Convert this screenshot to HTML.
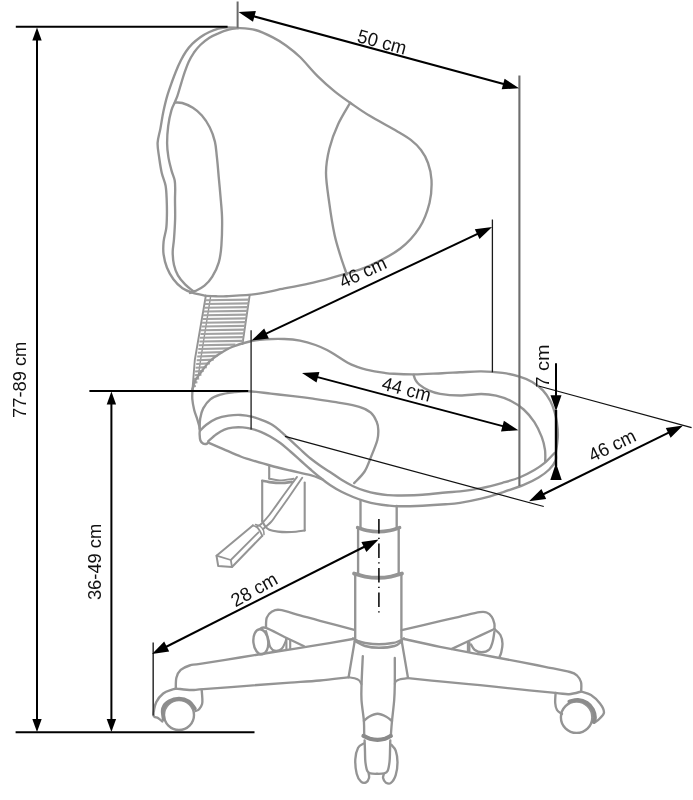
<!DOCTYPE html>
<html><head><meta charset="utf-8"><title>Chair dimensions</title>
<style>
html,body{margin:0;padding:0;background:#fff;}
body{width:693px;height:800px;overflow:hidden;}
svg{display:block;will-change:transform;}
text{font-family:"Liberation Sans",sans-serif;fill:#111;}
</style></head><body>
<svg width="693" height="800" viewBox="0 0 693 800">
<rect width="693" height="800" fill="#fff"/>
<path d="M236.7,27.9 C235.2,27.8 230.6,27.3 227.5,27.4 C224.4,27.5 221.4,27.9 218.4,28.7 C215.4,29.5 212.4,30.6 209.4,32.0 C206.4,33.4 203.1,35.2 200.3,37.2 C197.5,39.2 194.9,41.3 192.5,43.7 C190.1,46.1 187.9,48.7 186.0,51.5 C184.1,54.3 182.5,57.1 180.8,60.6 C179.1,64.0 177.1,68.5 175.6,72.2 C174.1,75.9 173.1,78.7 171.7,82.6 C170.3,86.5 168.7,90.9 167.3,95.6 C165.9,100.3 164.7,105.5 163.5,111.0 C162.3,116.5 161.4,123.3 160.4,128.6 C159.4,133.9 157.8,138.2 157.6,142.9 C157.4,147.7 158.4,152.1 159.1,157.1 C159.8,162.1 160.6,167.9 161.7,172.7 C162.8,177.5 164.8,181.1 165.6,185.7 C166.4,190.2 166.5,195.0 166.7,200.0 C166.9,205.0 167.0,210.8 166.9,215.6 C166.8,220.4 166.8,224.3 166.2,228.6 C165.6,232.9 164.0,237.3 163.6,241.6 C163.2,245.9 163.0,250.2 163.6,254.5 C164.2,258.8 165.3,263.4 166.9,267.5 C168.5,271.6 170.8,275.7 173.4,279.2 C176.0,282.7 179.2,286.0 182.5,288.3 C185.8,290.6 189.0,291.6 192.9,292.9 C196.8,294.1 203.7,295.3 205.8,295.8" fill="none" stroke="#949494" stroke-width="2.36" stroke-linecap="round" stroke-linejoin="round" />
<path d="M205.8,295.8 C207.5,295.9 212.5,296.2 216.0,296.3 C219.5,296.4 220.0,296.6 226.6,296.2 C233.2,295.8 245.8,295.5 255.4,294.2 C265.0,292.9 274.7,290.3 284.3,288.4 C293.9,286.5 303.9,284.9 313.2,282.7 C322.5,280.5 330.6,278.2 340.0,275.4 C349.4,272.6 359.2,270.3 369.3,265.8 C379.4,261.3 392.0,254.8 400.4,248.5 C408.8,242.2 414.6,235.3 419.5,227.7 C424.4,220.1 427.5,210.9 429.5,203.0 C431.5,195.1 431.8,186.7 431.5,180.0 C431.2,173.3 429.8,168.0 428.0,163.0 C426.2,158.0 423.9,153.8 421.0,150.0 C418.1,146.2 414.8,143.0 410.8,139.9 C406.8,136.8 403.9,135.2 397.0,131.2 C390.1,127.1 377.1,120.3 369.3,115.6 C361.5,110.9 356.0,106.8 350.2,102.8 C344.4,98.8 340.1,95.9 334.6,91.4 C329.1,86.9 323.1,81.5 317.3,75.8 C311.5,70.1 305.2,62.0 300.0,57.0 C294.8,52.0 290.5,48.8 286.0,45.5 C281.5,42.2 277.9,40.0 272.8,37.4 C267.7,34.8 261.4,31.6 255.4,30.0 C249.4,28.4 240.1,28.2 237.0,27.9" fill="none" stroke="#949494" stroke-width="2.36" stroke-linecap="round" stroke-linejoin="round" />
<path d="M237.9,28.3 C236.4,28.5 232.1,28.9 228.8,29.7 C225.6,30.5 221.6,31.9 218.4,33.3 C215.2,34.6 212.4,35.8 209.4,37.8 C206.4,39.8 202.9,42.5 200.3,45.0 C197.7,47.5 195.8,50.0 193.8,52.8 C191.9,55.6 190.1,58.7 188.6,61.9 C187.1,65.1 185.9,68.8 184.7,72.2 C183.5,75.7 182.6,78.7 181.4,82.6 C180.2,86.5 178.7,92.2 177.5,95.6 C176.3,99.0 175.5,100.5 174.5,103.0 C173.5,105.5 172.5,106.6 171.4,110.4 C170.3,114.2 168.9,120.6 168.2,126.0 C167.5,131.4 167.1,137.7 167.1,142.9 C167.1,148.1 167.7,152.6 168.4,157.1 C169.1,161.6 170.4,166.2 171.4,170.1 C172.4,174.0 174.1,177.2 174.7,180.5 C175.3,183.8 175.1,186.8 175.2,190.0 C175.2,193.2 175.0,195.1 175.0,200.0 C175.0,204.9 175.3,213.0 175.1,219.5 C174.9,226.0 174.4,233.6 174.0,239.0 C173.6,244.4 172.7,247.6 172.7,251.9 C172.7,256.2 173.1,261.0 174.0,264.9 C174.9,268.8 176.1,272.1 177.9,275.3 C179.8,278.6 182.6,281.8 185.1,284.4 C187.6,287.0 191.6,289.8 192.9,290.9" fill="none" stroke="#949494" stroke-width="2.36" stroke-linecap="round" stroke-linejoin="round" />
<path d="M174.9,102.5 C176.1,102.6 179.3,102.1 182.3,103.0 C185.3,103.9 189.6,105.7 192.9,107.8 C196.2,109.9 199.1,112.3 201.9,115.6 C204.7,118.8 207.5,123.0 209.7,127.3 C211.9,131.6 213.7,136.6 214.9,141.6 C216.1,146.6 216.2,151.0 216.9,157.1 C217.6,163.2 218.2,170.8 218.8,177.9 C219.5,185.1 220.2,193.1 220.8,200.0 C221.4,206.9 222.0,211.9 222.1,219.5 C222.2,227.1 221.9,238.4 221.4,245.5 C220.9,252.6 220.3,257.1 218.8,262.3 C217.3,267.5 214.7,272.7 212.3,276.6 C209.9,280.5 207.3,283.3 204.5,285.7 C201.7,288.1 197.9,289.7 195.5,290.9 C193.1,292.1 190.9,292.6 190.0,293.0" fill="none" stroke="#949494" stroke-width="2.36" stroke-linecap="round" stroke-linejoin="round" />
<path d="M350.2,102.8 C348.2,106.4 341.6,116.7 338.1,124.3 C334.6,131.9 331.4,140.4 329.4,148.5 C327.4,156.6 326.0,163.6 326.0,172.8 C326.0,182.0 328.0,193.5 329.4,203.9 C330.8,214.3 332.8,226.4 334.6,235.1 C336.5,243.8 338.5,249.4 340.5,256.0 C342.5,262.6 345.8,271.4 346.8,274.5" fill="none" stroke="#949494" stroke-width="2.36" stroke-linecap="round" stroke-linejoin="round" />
<path d="M205.8,296.0 L194.8,360.0 L192.5,389.0" fill="none" stroke="#949494" stroke-width="1.89" stroke-linecap="round" stroke-linejoin="round" />
<path d="M210.7,296.0 L200.6,360.0 L198.0,378.0" fill="none" stroke="#949494" stroke-width="1.42" stroke-linecap="round" stroke-linejoin="round" />
<path d="M249.7,295.0 L242.5,344.0" fill="none" stroke="#949494" stroke-width="1.89" stroke-linecap="round" stroke-linejoin="round" />
<path d="M205.3,300.2 L249.0,299.6" stroke="#a2a2a2" stroke-width="2.1" fill="none"/>
<path d="M204.7,304.0 L248.5,303.4" stroke="#a2a2a2" stroke-width="2.1" fill="none"/>
<path d="M204.2,307.7 L247.9,307.1" stroke="#a2a2a2" stroke-width="2.1" fill="none"/>
<path d="M203.7,311.5 L247.4,310.9" stroke="#a2a2a2" stroke-width="2.1" fill="none"/>
<path d="M203.1,315.2 L246.8,314.6" stroke="#a2a2a2" stroke-width="2.1" fill="none"/>
<path d="M202.6,319.0 L246.3,318.4" stroke="#a2a2a2" stroke-width="2.1" fill="none"/>
<path d="M202.1,322.7 L245.7,322.1" stroke="#a2a2a2" stroke-width="2.1" fill="none"/>
<path d="M201.5,326.5 L245.2,325.9" stroke="#a2a2a2" stroke-width="2.1" fill="none"/>
<path d="M201.0,330.2 L244.6,329.6" stroke="#a2a2a2" stroke-width="2.1" fill="none"/>
<path d="M200.5,334.0 L244.1,333.4" stroke="#a2a2a2" stroke-width="2.1" fill="none"/>
<path d="M199.9,337.7 L243.5,337.1" stroke="#a2a2a2" stroke-width="2.1" fill="none"/>
<path d="M199.4,341.5 L243.0,340.9" stroke="#a2a2a2" stroke-width="2.1" fill="none"/>
<path d="M198.8,345.2 L235.4,344.6" stroke="#a2a2a2" stroke-width="2.1" fill="none"/>
<path d="M198.3,349.0 L228.7,348.4" stroke="#a2a2a2" stroke-width="2.1" fill="none"/>
<path d="M197.8,352.7 L222.6,352.1" stroke="#a2a2a2" stroke-width="2.1" fill="none"/>
<path d="M197.2,356.5 L217.4,355.9" stroke="#a2a2a2" stroke-width="2.1" fill="none"/>
<path d="M196.7,360.2 L213.7,359.6" stroke="#a2a2a2" stroke-width="2.1" fill="none"/>
<path d="M196.2,364.0 L209.9,363.4" stroke="#a2a2a2" stroke-width="2.1" fill="none"/>
<path d="M195.6,367.7 L206.8,367.1" stroke="#a2a2a2" stroke-width="2.1" fill="none"/>
<path d="M195.1,371.5 L203.7,370.9" stroke="#a2a2a2" stroke-width="2.1" fill="none"/>
<path d="M194.6,375.2 L201.4,374.6" stroke="#a2a2a2" stroke-width="2.1" fill="none"/>
<path d="M194.0,379.0 L199.2,378.4" stroke="#a2a2a2" stroke-width="2.1" fill="none"/>
<path d="M193.5,382.7 L197.4,382.1" stroke="#a2a2a2" stroke-width="2.1" fill="none"/>
<path d="M193.0,386.5 L195.8,385.9" stroke="#a2a2a2" stroke-width="2.1" fill="none"/>
<path d="M192.5,389.3 C192.9,387.9 193.6,383.9 195.0,381.0 C196.4,378.1 198.9,375.2 201.2,372.0 C203.5,368.8 206.1,364.9 209.0,362.0 C211.9,359.1 214.7,357.1 218.5,354.6 C222.3,352.1 226.8,349.2 232.0,347.0 C237.2,344.8 244.0,342.8 249.7,341.5 C255.4,340.2 260.2,339.7 266.0,339.3 C271.8,338.9 278.6,338.8 284.3,339.0 C290.0,339.2 294.8,339.6 300.0,340.6 C305.2,341.6 311.0,343.4 315.5,345.0 C320.0,346.6 323.4,348.2 327.0,350.0 C330.6,351.8 333.6,353.9 337.0,356.0 C340.4,358.1 344.4,360.9 347.7,362.7 C351.0,364.5 353.9,365.6 357.0,366.8 C360.1,368.0 361.6,368.6 366.2,369.6 C370.8,370.6 380.1,372.2 384.7,372.9 C389.3,373.6 389.0,373.6 394.0,373.8 C399.0,374.1 406.6,374.5 414.7,374.4 C422.8,374.3 434.8,373.5 442.3,373.2 C449.9,372.9 453.5,372.6 460.0,372.3 C466.5,372.0 474.1,371.3 481.2,371.4 C488.3,371.5 496.1,372.0 502.5,372.9 C508.9,373.8 514.5,375.1 519.5,376.6 C524.5,378.1 528.3,379.6 532.2,381.9 C536.1,384.2 539.9,387.2 542.9,390.4 C545.9,393.6 548.4,397.5 550.3,401.0 C552.2,404.5 553.4,408.1 554.5,411.6 C555.6,415.1 556.3,418.3 556.9,422.2 C557.5,426.1 557.9,431.1 557.9,435.0 C557.9,438.9 557.2,442.6 556.9,445.6 C556.5,448.6 556.0,450.5 555.8,453.0 C555.6,455.5 556.7,457.8 555.6,460.5 C554.5,463.2 552.0,466.7 549.2,469.5 C546.4,472.3 542.9,474.9 538.6,477.5 C534.4,480.1 529.7,482.4 523.7,484.9 C517.7,487.4 509.6,490.0 502.5,492.3 C495.4,494.6 488.3,496.9 481.2,498.7 C474.1,500.4 465.9,501.9 460.0,502.8 C454.1,503.7 451.8,503.8 445.5,504.3 C439.2,504.8 430.1,505.4 422.4,505.7 C414.7,506.0 405.1,506.2 399.3,506.2 C393.5,506.2 391.6,505.9 387.7,505.5 C383.8,505.1 380.0,504.6 376.2,503.9 C372.4,503.2 368.5,502.2 364.6,501.1 C360.8,500.0 357.0,498.6 353.1,497.0 C349.2,495.4 345.4,493.8 341.5,491.8 C337.6,489.8 333.5,487.3 330.0,485.0 C326.5,482.7 323.9,480.6 320.7,478.0 C317.5,475.4 314.0,472.4 310.6,469.5 C307.2,466.6 303.9,463.5 300.5,460.5 C297.1,457.5 293.8,454.4 290.4,451.5 C287.0,448.6 283.7,445.5 280.3,443.0 C276.9,440.5 273.4,438.4 270.2,436.5 C266.9,434.6 264.1,433.1 260.8,431.8 C257.6,430.5 253.7,429.3 250.7,428.6 C247.7,427.9 245.6,427.6 242.6,427.4 C239.6,427.2 235.5,427.2 232.5,427.6 C229.5,428.0 227.1,428.5 224.4,429.6 C221.7,430.7 219.1,432.3 216.4,434.2 C213.7,436.1 209.7,440.0 208.3,441.2" fill="none" stroke="#949494" stroke-width="2.36" stroke-linecap="round" stroke-linejoin="round" />
<path d="M192.5,389.3 C192.5,390.9 192.0,395.6 192.3,399.0 C192.6,402.4 193.4,406.7 194.2,410.0 C195.0,413.3 196.3,416.0 197.2,419.0 C198.1,422.0 199.3,425.5 199.7,428.0 C200.1,430.5 199.5,431.9 199.6,434.0 C199.7,436.1 199.8,438.9 200.4,440.5 C201.0,442.1 202.1,442.9 203.0,443.5 C203.9,444.1 205.1,444.1 206.0,444.0 C206.9,443.9 207.9,442.8 208.3,442.6" fill="none" stroke="#949494" stroke-width="2.36" stroke-linecap="round" stroke-linejoin="round" />
<path d="M199.6,429.0 C199.7,427.2 199.6,421.9 200.2,418.5 C200.8,415.1 201.5,411.6 203.2,408.4 C204.9,405.2 207.4,401.6 210.3,399.3 C213.2,397.0 216.4,395.8 220.4,394.6 C224.4,393.4 229.8,392.8 234.5,392.2 C239.2,391.6 242.6,391.1 248.7,391.3 C254.8,391.5 263.5,392.8 270.9,393.6 C278.3,394.4 286.1,395.4 293.1,396.2 C300.1,397.0 305.9,397.7 313.0,398.7 C320.1,399.7 328.3,400.8 336.0,402.2 C343.7,403.6 353.5,405.1 359.3,406.8 C365.1,408.5 367.9,410.1 370.8,412.6 C373.7,415.1 375.4,418.7 376.6,421.6 C377.9,424.5 378.2,427.0 378.3,430.1 C378.4,433.2 378.5,435.8 377.3,440.2 C376.1,444.6 373.3,451.2 371.2,456.4 C369.1,461.6 367.4,467.1 364.6,471.5 C361.8,475.9 355.9,481.2 354.2,483.1" fill="none" stroke="#949494" stroke-width="2.36" stroke-linecap="round" stroke-linejoin="round" />
<path d="M200.2,430.6 C201.2,429.6 203.6,426.8 206.3,424.8 C209.0,422.8 212.7,420.2 216.4,418.7 C220.1,417.2 224.5,416.3 228.5,415.7 C232.5,415.1 236.6,414.8 240.6,415.0 C244.6,415.2 249.1,416.0 252.7,416.9 C256.3,417.8 258.9,418.9 262.1,420.2 C265.4,421.5 269.2,423.0 272.2,424.8 C275.2,426.6 277.3,428.5 280.3,431.1 C283.3,433.7 287.0,437.1 290.4,440.2 C293.8,443.3 297.1,446.4 300.5,449.5 C303.9,452.6 307.2,455.8 310.6,458.5 C314.0,461.2 317.5,463.8 320.7,466.0 C323.9,468.2 326.5,469.7 330.0,472.0 C333.5,474.3 337.6,477.4 341.5,479.8 C345.4,482.2 349.2,484.4 353.1,486.2 C357.0,488.0 360.8,489.4 364.6,490.6 C368.5,491.8 372.4,492.8 376.2,493.5 C380.0,494.2 383.8,494.8 387.7,495.1 C391.6,495.4 393.5,495.6 399.3,495.5 C405.1,495.4 414.7,495.3 422.4,494.8 C430.1,494.3 439.2,493.1 445.5,492.5 C451.8,491.9 454.1,492.0 460.0,491.3 C465.9,490.6 474.1,489.5 481.2,488.1 C488.3,486.7 496.1,484.6 502.5,482.8 C508.9,481.0 514.2,479.6 519.5,477.5 C524.8,475.4 530.1,472.5 534.4,470.0 C538.6,467.5 541.6,465.4 545.0,462.6 C548.4,459.8 552.9,454.6 554.5,453.0" fill="none" stroke="#949494" stroke-width="2.36" stroke-linecap="round" stroke-linejoin="round" />
<path d="M208.3,442.6 C210.3,443.5 215.0,445.5 220.4,447.8 C225.8,450.1 235.7,454.5 240.6,456.5 C245.5,458.5 245.1,458.1 250.0,459.6 C254.9,461.1 263.5,463.7 270.2,465.5 C276.9,467.3 283.7,468.9 290.4,470.5 C297.1,472.1 305.2,473.7 310.6,475.2 C316.0,476.7 320.5,478.7 322.5,479.4" fill="none" stroke="#949494" stroke-width="2.36" stroke-linecap="round" stroke-linejoin="round" />
<path d="M413.6,374.8 C413.9,375.7 414.6,378.4 415.5,380.0 C416.4,381.6 417.1,382.9 419.3,384.6 C421.5,386.3 425.1,388.8 428.6,390.4 C432.1,391.9 434.9,393.0 440.1,393.9 C445.3,394.8 453.1,395.5 460.0,395.5 C466.9,395.5 475.2,394.0 481.2,394.0 C487.2,394.0 491.1,394.5 496.1,395.7 C501.1,396.9 506.4,398.7 511.0,401.0 C515.6,403.3 519.8,406.0 523.7,409.5 C527.6,413.0 531.4,417.6 534.4,422.2 C537.4,426.8 540.0,432.5 541.8,437.1 C543.6,441.7 544.4,445.8 545.0,449.9 C545.6,454.0 545.2,459.6 545.2,461.5" fill="none" stroke="#949494" stroke-width="2.36" stroke-linecap="round" stroke-linejoin="round" />
<path d="M269.2,466.5 L269.2,478.6" fill="none" stroke="#949494" stroke-width="2.12" stroke-linecap="round" stroke-linejoin="round" />
<path d="M262.2,480.8 L262.2,521.0" fill="none" stroke="#949494" stroke-width="2.12" stroke-linecap="round" stroke-linejoin="round" />
<path d="M304.7,482.5 L304.7,530.5" fill="none" stroke="#949494" stroke-width="2.12" stroke-linecap="round" stroke-linejoin="round" />
<path d="M262.2,480.8 C263.4,481.0 266.1,481.7 269.3,482.1 C272.5,482.5 277.6,483.0 281.4,483.0 C285.1,483.0 290.1,482.1 291.8,481.9" fill="none" stroke="#949494" stroke-width="2.60" stroke-linecap="round" stroke-linejoin="round" />
<path d="M269.2,478.6 C270.9,478.9 275.6,480.4 279.7,480.4 C283.8,480.4 291.2,479.0 293.5,478.7" fill="none" stroke="#949494" stroke-width="1.89" stroke-linecap="round" stroke-linejoin="round" />
<path d="M262.2,521.0 C262.7,521.8 263.8,524.5 265.0,526.0 C266.2,527.5 267.1,528.8 269.3,529.7 C271.5,530.6 275.1,531.2 278.0,531.6 C280.9,532.0 283.6,532.1 286.6,532.1 C289.6,532.1 293.0,532.0 296.0,531.7 C299.0,531.4 303.2,530.7 304.7,530.5" fill="none" stroke="#949494" stroke-width="2.12" stroke-linecap="round" stroke-linejoin="round" />
<path d="M297.0,476.9 C294.7,480.1 287.6,489.6 283.0,496.0 C278.4,502.4 272.9,510.4 269.3,515.0 C265.7,519.6 263.5,521.8 261.5,523.7 C259.5,525.6 257.8,525.9 257.1,526.3" fill="none" stroke="#949494" stroke-width="1.89" stroke-linecap="round" stroke-linejoin="round" />
<path d="M302.2,477.8 C300.0,481.0 293.3,490.8 289.0,497.0 C284.7,503.2 279.2,510.8 276.2,515.0 C273.2,519.2 273.2,519.7 271.0,522.0 C268.8,524.3 264.5,527.8 263.2,528.9" fill="none" stroke="#949494" stroke-width="1.89" stroke-linecap="round" stroke-linejoin="round" />
<path d="M252.8,525.4 L216.5,555.7 L218.2,566.1 L232.0,567.0 L262.3,535.8" fill="none" stroke="#949494" stroke-width="2.01" stroke-linecap="round" stroke-linejoin="round" />
<path d="M216.5,555.7 L230.8,560.0 L232.0,567.0" fill="none" stroke="#949494" stroke-width="1.77" stroke-linecap="round" stroke-linejoin="round" />
<path d="M230.8,560.0 L258.5,532.3" fill="none" stroke="#949494" stroke-width="1.77" stroke-linecap="round" stroke-linejoin="round" />
<path d="M252.8,525.4 C253.5,525.7 255.9,526.4 257.0,527.2 C258.1,528.1 258.7,529.1 259.6,530.5 C260.5,531.9 261.9,534.9 262.3,535.8" fill="none" stroke="#949494" stroke-width="1.77" stroke-linecap="round" stroke-linejoin="round" />
<path d="M255.5,524.5 C256.3,524.8 259.2,525.5 260.5,526.5 C261.8,527.5 262.9,529.2 263.5,530.5 C264.1,531.8 263.9,533.8 264.0,534.5" fill="none" stroke="#949494" stroke-width="1.53" stroke-linecap="round" stroke-linejoin="round" />
<path d="M360.5,500.4 L360.5,528.0" fill="none" stroke="#949494" stroke-width="2.36" stroke-linecap="round" stroke-linejoin="round" />
<path d="M396.7,506.0 L396.7,528.0" fill="none" stroke="#949494" stroke-width="2.36" stroke-linecap="round" stroke-linejoin="round" />
<path d="M357.6,527.6 C359.2,528.1 363.5,529.9 367.0,530.6 C370.5,531.3 374.8,531.8 378.6,531.8 C382.4,531.8 386.5,531.3 390.0,530.6 C393.5,529.9 398.0,528.1 399.6,527.6" fill="none" stroke="#949494" stroke-width="3.54" stroke-linecap="round" stroke-linejoin="round" />
<path d="M358.1,528.0 L358.1,574.0" fill="none" stroke="#949494" stroke-width="2.36" stroke-linecap="round" stroke-linejoin="round" />
<path d="M398.7,528.0 L398.7,574.0" fill="none" stroke="#949494" stroke-width="2.36" stroke-linecap="round" stroke-linejoin="round" />
<path d="M354.1,573.6 C355.9,574.1 361.0,575.9 365.0,576.6 C369.0,577.3 373.9,577.8 378.2,577.8 C382.5,577.8 387.1,577.3 391.0,576.6 C394.9,575.9 400.1,574.1 401.9,573.6" fill="none" stroke="#949494" stroke-width="4.01" stroke-linecap="round" stroke-linejoin="round" />
<path d="M355.2,574.0 L355.2,638.0" fill="none" stroke="#949494" stroke-width="2.36" stroke-linecap="round" stroke-linejoin="round" />
<path d="M401.4,574.0 L401.4,638.0" fill="none" stroke="#949494" stroke-width="2.36" stroke-linecap="round" stroke-linejoin="round" />
<path d="M352.9,638.4 C353.8,638.8 356.0,640.2 358.0,641.0 C360.0,641.8 361.5,642.5 365.0,643.0 C368.5,643.5 374.3,644.2 378.9,644.2 C383.5,644.2 389.3,643.5 392.7,643.0 C396.1,642.5 397.1,641.8 399.0,641.0 C400.9,640.2 403.2,638.8 404.0,638.4" fill="none" stroke="#949494" stroke-width="2.36" stroke-linecap="round" stroke-linejoin="round" />
<path d="M354.6,641.0 C356.3,641.8 360.9,644.9 365.0,646.0 C369.1,647.1 374.0,647.8 378.9,647.8 C383.8,647.8 390.6,647.1 394.5,646.0 C398.4,644.9 400.8,641.8 402.0,641.0" fill="none" stroke="#949494" stroke-width="2.36" stroke-linecap="round" stroke-linejoin="round" />
<path d="M354.6,641.6 L348.6,677.1" fill="none" stroke="#949494" stroke-width="2.36" stroke-linecap="round" stroke-linejoin="round" />
<path d="M401.8,641.6 L408.0,677.9" fill="none" stroke="#949494" stroke-width="2.36" stroke-linecap="round" stroke-linejoin="round" />
<path d="M362.8,656.3 C362.6,660.8 361.8,675.8 361.6,683.1 C361.4,690.4 361.1,693.7 361.5,700.0 C361.9,706.3 363.4,715.0 363.9,721.0 C364.3,727.0 364.1,733.5 364.2,736.0" fill="none" stroke="#949494" stroke-width="2.36" stroke-linecap="round" stroke-linejoin="round" />
<path d="M394.8,658.0 C394.8,662.2 394.9,676.1 394.8,683.1 C394.7,690.1 394.7,693.7 394.2,700.0 C393.7,706.3 392.6,715.0 392.0,721.0 C391.4,727.0 391.0,733.5 390.8,736.0" fill="none" stroke="#949494" stroke-width="2.36" stroke-linecap="round" stroke-linejoin="round" />
<path d="M348.6,677.3 C349.6,677.5 352.9,677.8 354.6,678.3 C356.3,678.8 357.9,679.3 359.0,680.3 C360.1,681.2 361.0,683.4 361.4,684.0" fill="none" stroke="#949494" stroke-width="2.12" stroke-linecap="round" stroke-linejoin="round" />
<path d="M408.0,678.1 C406.6,678.3 401.5,679.0 399.5,679.5 C397.5,680.0 396.8,680.5 396.0,681.3 C395.2,682.0 395.0,683.5 394.8,684.0" fill="none" stroke="#949494" stroke-width="2.12" stroke-linecap="round" stroke-linejoin="round" />
<path d="M363.9,721.0 C364.8,720.3 366.7,717.9 369.0,716.7 C371.3,715.5 374.7,713.8 377.6,713.8 C380.5,713.8 383.9,715.5 386.3,716.7 C388.7,717.9 391.1,720.3 392.0,721.0" fill="none" stroke="#949494" stroke-width="2.36" stroke-linecap="round" stroke-linejoin="round" />
<path d="M363.5,735.9 C364.6,736.4 367.7,738.1 370.0,738.8 C372.3,739.4 375.0,739.8 377.5,739.8 C380.0,739.8 382.8,739.4 385.0,738.8 C387.2,738.1 389.8,736.4 390.8,735.9" fill="none" stroke="#8a8a8a" stroke-width="4.25" stroke-linecap="round" stroke-linejoin="round" />
<path d="M364.6,740.5 C364.7,742.4 364.9,748.4 365.0,752.0 C365.1,755.6 365.0,759.1 365.4,762.2 C365.8,765.3 366.4,768.9 367.2,770.8 C368.0,772.7 368.8,772.9 370.4,773.4 C372.0,773.9 374.7,773.8 377.0,773.8 C379.3,773.8 382.3,773.9 384.1,773.4 C385.9,772.9 386.8,772.7 387.7,770.8 C388.6,768.9 389.1,765.3 389.5,762.2 C389.9,759.1 389.9,755.6 390.0,752.0 C390.1,748.4 390.2,742.4 390.3,740.5" fill="none" stroke="#949494" stroke-width="2.36" stroke-linecap="round" stroke-linejoin="round" />
<path d="M363.9,743.4 C362.9,744.1 359.5,745.1 358.1,747.7 C356.7,750.4 355.5,755.0 355.3,759.3 C355.1,763.6 355.8,770.0 356.7,773.7 C357.6,777.4 359.4,780.2 361.0,781.6 C362.6,783.0 364.8,783.0 366.1,782.4 C367.4,781.8 368.6,779.5 369.0,778.0 C369.4,776.5 368.8,774.4 368.7,773.7" fill="none" stroke="#949494" stroke-width="2.36" stroke-linecap="round" stroke-linejoin="round" />
<path d="M391.3,744.8 C392.0,745.8 394.7,747.7 395.7,750.6 C396.7,753.5 397.5,758.1 397.5,762.2 C397.5,766.3 396.8,771.6 395.7,775.1 C394.6,778.6 392.3,781.9 390.6,783.1 C388.9,784.3 386.9,783.2 385.6,782.4 C384.4,781.5 383.4,779.3 383.1,778.0 C382.8,776.7 383.6,775.0 383.7,774.4" fill="none" stroke="#949494" stroke-width="2.36" stroke-linecap="round" stroke-linejoin="round" />
<path d="M352.9,639.0 C347.4,640.0 332.1,642.7 320.0,644.7 C307.9,646.7 293.3,648.9 280.0,651.0 C266.7,653.1 253.3,655.4 240.0,657.5 C226.7,659.6 208.4,662.5 200.0,663.8 C191.6,665.1 192.7,664.5 189.5,665.5 C186.3,666.5 182.9,667.9 180.7,669.9 C178.5,671.9 177.2,674.7 176.4,677.7 C175.6,680.8 175.9,686.5 175.8,688.2" fill="none" stroke="#949494" stroke-width="2.36" stroke-linecap="round" stroke-linejoin="round" />
<path d="M348.6,677.3 C343.8,677.8 329.8,679.6 320.0,680.5 C310.2,681.4 301.7,681.8 290.0,682.6 C278.3,683.5 264.4,684.5 250.0,685.6 C235.6,686.7 213.3,688.4 203.5,689.1 C193.7,689.8 195.7,690.1 191.2,690.0 C186.7,689.9 178.9,688.8 176.4,688.6" fill="none" stroke="#949494" stroke-width="2.36" stroke-linecap="round" stroke-linejoin="round" />
<path d="M176.4,688.6 C175.7,688.8 174.2,688.8 172.0,689.6 C169.8,690.4 165.8,691.4 163.2,693.5 C160.6,695.6 157.8,698.6 156.2,702.2 C154.6,705.8 153.3,712.7 153.6,715.3 C153.9,717.9 156.5,717.0 158.0,718.0 C159.5,719.0 161.7,720.9 162.4,721.5" fill="none" stroke="#949494" stroke-width="2.36" stroke-linecap="round" stroke-linejoin="round" />
<path d="M201.7,690.0 C201.8,691.3 202.2,695.7 202.3,698.0 C202.4,700.3 202.6,702.1 202.1,704.0 C201.6,705.9 200.2,708.0 199.1,709.2 C198.0,710.4 196.2,710.7 195.6,711.0" fill="none" stroke="#949494" stroke-width="2.36" stroke-linecap="round" stroke-linejoin="round" />
<circle cx="179" cy="715" r="15" fill="none" stroke="#949494" stroke-width="2.4"/>
<path d="M163.6,719.0 C163.5,717.2 162.1,711.4 163.0,708.5 C163.9,705.6 166.3,703.1 169.0,701.5 C171.7,699.9 175.7,698.6 179.0,698.6 C182.3,698.6 186.4,699.9 189.0,701.5 C191.6,703.1 193.8,707.3 194.8,708.5" fill="none" stroke="#8c8c8c" stroke-width="3.78" stroke-linecap="round" stroke-linejoin="round" />
<path d="M354.3,629.8 C348.6,628.3 329.1,623.2 320.0,620.8 C310.9,618.4 306.7,617.1 300.0,615.3 C293.3,613.5 284.5,610.5 279.8,609.9 C275.1,609.3 274.2,610.3 272.0,611.6 C269.8,612.9 267.8,615.1 266.8,617.7 C265.8,620.3 266.1,625.6 266.0,627.2" fill="none" stroke="#949494" stroke-width="2.36" stroke-linecap="round" stroke-linejoin="round" />
<path d="M259.9,629.0 C260.9,628.8 261.8,626.5 266.0,627.9 C270.2,629.3 278.6,634.1 285.0,637.2 C291.4,640.3 300.9,644.8 304.1,646.3" fill="none" stroke="#949494" stroke-width="2.36" stroke-linecap="round" stroke-linejoin="round" />
<ellipse cx="260.8" cy="641.8" rx="7.4" ry="12.6" fill="none" stroke="#949494" stroke-width="2.4" transform="rotate(-6 260.8 641.8)"/>
<path d="M266.0,631.0 C266.4,632.5 267.9,637.5 268.6,640.2 C269.3,642.9 269.3,645.4 270.3,647.1 C271.3,648.8 272.7,650.3 274.6,650.6 C276.5,650.9 279.8,650.3 281.6,648.9 C283.4,647.5 284.6,643.7 285.4,642.0 C286.2,640.3 286.2,639.1 286.4,638.5" fill="none" stroke="#949494" stroke-width="2.12" stroke-linecap="round" stroke-linejoin="round" />
<path d="M286.4,638.5 L286.4,649.0" fill="none" stroke="#949494" stroke-width="2.12" stroke-linecap="round" stroke-linejoin="round" />
<path d="M290.2,640.2 L290.2,648.5" fill="none" stroke="#949494" stroke-width="2.12" stroke-linecap="round" stroke-linejoin="round" />
<path d="M401.7,630.2 C408.1,628.7 430.3,623.5 440.0,621.2 C449.7,618.9 453.4,618.1 460.0,616.6 C466.6,615.1 475.3,612.9 479.7,612.2 C484.1,611.5 484.6,611.7 486.6,612.5 C488.6,613.3 490.5,614.9 491.8,616.8 C493.1,618.7 494.0,621.8 494.4,623.8 C494.8,625.8 494.4,628.1 494.4,629.0" fill="none" stroke="#949494" stroke-width="2.36" stroke-linecap="round" stroke-linejoin="round" />
<path d="M494.4,629.0 C491.2,630.5 482.1,634.7 475.0,638.0 C467.9,641.3 455.8,647.1 451.9,648.9" fill="none" stroke="#949494" stroke-width="2.36" stroke-linecap="round" stroke-linejoin="round" />
<path d="M494.4,629.0 C495.4,630.0 499.0,632.5 500.4,635.0 C501.8,637.5 502.4,640.8 502.5,643.7 C502.6,646.6 501.8,650.1 501.3,652.3 C500.8,654.5 499.9,656.0 499.6,656.7" fill="none" stroke="#949494" stroke-width="2.36" stroke-linecap="round" stroke-linejoin="round" />
<path d="M494.4,631.6 C494.1,633.3 493.5,639.0 492.6,642.0 C491.7,645.0 491.1,648.0 489.2,649.7 C487.3,651.4 483.8,652.3 481.4,652.3 C478.9,652.3 476.2,651.0 474.5,649.7 C472.8,648.4 471.6,645.4 471.0,644.5" fill="none" stroke="#949494" stroke-width="2.36" stroke-linecap="round" stroke-linejoin="round" />
<path d="M467.9,642.0 L467.9,651.5" fill="none" stroke="#949494" stroke-width="2.12" stroke-linecap="round" stroke-linejoin="round" />
<path d="M469.6,642.0 L469.6,651.5" fill="none" stroke="#949494" stroke-width="1.65" stroke-linecap="round" stroke-linejoin="round" />
<path d="M404.0,639.0 C410.0,640.3 427.3,644.2 440.0,646.8 C452.7,649.4 466.7,651.9 480.0,654.4 C493.3,656.9 509.2,659.8 520.0,661.9 C530.8,664.0 536.7,665.1 545.0,666.8 C553.3,668.5 564.7,670.5 570.0,672.0 C575.3,673.5 575.2,673.8 577.0,675.5 C578.8,677.2 580.3,679.5 581.0,682.0 C581.7,684.5 581.2,689.1 581.2,690.5" fill="none" stroke="#949494" stroke-width="2.36" stroke-linecap="round" stroke-linejoin="round" />
<path d="M408.0,678.1 C413.3,678.6 428.0,680.2 440.0,681.4 C452.0,682.6 466.7,683.9 480.0,685.2 C493.3,686.5 507.4,688.1 520.0,689.4 C532.6,690.7 547.2,692.0 555.4,692.8 C563.6,693.6 564.7,694.4 569.0,694.2 C573.3,694.0 579.2,692.0 581.2,691.5" fill="none" stroke="#949494" stroke-width="2.36" stroke-linecap="round" stroke-linejoin="round" />
<path d="M555.6,693.0 C555.5,694.7 555.0,700.2 555.2,703.0 C555.4,705.8 555.9,708.2 557.0,710.0 C558.1,711.8 561.2,713.3 562.0,714.0" fill="none" stroke="#949494" stroke-width="2.36" stroke-linecap="round" stroke-linejoin="round" />
<path d="M581.2,691.5 C582.8,692.1 587.9,693.0 591.0,695.0 C594.1,697.0 597.8,700.6 600.0,703.5 C602.2,706.4 604.1,710.0 604.0,712.5 C603.9,715.0 601.1,717.1 599.5,718.8 C597.9,720.5 595.2,722.1 594.4,722.8" fill="none" stroke="#949494" stroke-width="2.36" stroke-linecap="round" stroke-linejoin="round" />
<circle cx="576.6" cy="717.2" r="15.7" fill="none" stroke="#949494" stroke-width="2.4"/>
<path d="M569.3,701.5 C570.8,701.2 575.0,699.6 578.0,699.8 C581.0,700.0 584.5,701.2 587.0,702.8 C589.5,704.4 591.7,707.0 593.0,709.5 C594.3,712.0 594.9,715.4 595.0,717.5 C595.1,719.6 593.8,721.2 593.6,722.0" fill="none" stroke="#8c8c8c" stroke-width="3.78" stroke-linecap="round" stroke-linejoin="round" />
<line x1="237.6" y1="1.5" x2="237.6" y2="27.8" stroke="#6a6a6a" stroke-width="2.00" />
<line x1="519.4" y1="75.5" x2="519.4" y2="486.0" stroke="#6e6e6e" stroke-width="2.10" />
<line x1="492.4" y1="219.5" x2="492.4" y2="372.3" stroke="#1a1a1a" stroke-width="1.30" />
<line x1="251.1" y1="330.3" x2="251.1" y2="429.6" stroke="#2a2a2a" stroke-width="1.40" />
<line x1="153.2" y1="642.4" x2="153.2" y2="715.5" stroke="#3a3a3a" stroke-width="1.60" />
<line x1="538.6" y1="386.0" x2="691.6" y2="427.7" stroke="#111" stroke-width="1.20" />
<line x1="285.0" y1="436.3" x2="543.8" y2="506.5" stroke="#111" stroke-width="1.20" />
<line x1="15.8" y1="26.8" x2="227.6" y2="26.8" stroke="#000" stroke-width="2.00" />
<line x1="15.6" y1="732.3" x2="254.5" y2="732.3" stroke="#000" stroke-width="2.00" />
<line x1="89.4" y1="390.9" x2="248.2" y2="390.9" stroke="#000" stroke-width="2.00" />
<line x1="37.0" y1="37.9" x2="37.0" y2="721.6" stroke="#000" stroke-width="2.00" />
<polygon points="37.0,27.5 41.7,40.5 32.3,40.5" fill="#000"/>
<polygon points="37.0,732.0 32.3,719.0 41.7,719.0" fill="#000"/>
<line x1="111.4" y1="401.9" x2="111.4" y2="721.6" stroke="#000" stroke-width="2.00" />
<polygon points="111.4,391.5 116.1,404.5 106.7,404.5" fill="#000"/>
<polygon points="111.4,732.0 106.7,719.0 116.1,719.0" fill="#000"/>
<line x1="251.2" y1="15.6" x2="506.4" y2="84.8" stroke="#000" stroke-width="2.00" />
<polygon points="238.5,12.1 255.9,11.1 253.0,21.7" fill="#000"/>
<polygon points="519.1,88.3 501.7,89.3 504.6,78.7" fill="#000"/>
<line x1="263.5" y1="334.9" x2="480.2" y2="232.7" stroke="#000" stroke-width="2.00" />
<polygon points="251.6,340.5 264.2,328.5 268.9,338.4" fill="#000"/>
<polygon points="492.1,227.1 479.5,239.1 474.8,229.2" fill="#000"/>
<line x1="314.8" y1="376.4" x2="505.6" y2="426.9" stroke="#000" stroke-width="2.00" />
<polygon points="302.0,373.0 319.4,371.9 316.5,382.5" fill="#000"/>
<polygon points="518.4,430.3 501.0,431.4 503.9,420.8" fill="#000"/>
<line x1="540.8" y1="495.5" x2="671.2" y2="431.3" stroke="#000" stroke-width="2.00" />
<polygon points="529.0,501.3 541.4,489.1 546.2,498.9" fill="#000"/>
<polygon points="683.0,425.5 670.6,437.7 665.8,427.9" fill="#000"/>
<line x1="163.8" y1="648.0" x2="366.8" y2="545.5" stroke="#000" stroke-width="2.00" />
<polygon points="152.0,654.0 164.2,641.6 169.2,651.5" fill="#000"/>
<polygon points="378.6,539.5 366.4,551.9 361.4,542.0" fill="#000"/>
<line x1="556.0" y1="363.2" x2="556.0" y2="400.0" stroke="#000" stroke-width="2.00" />
<polygon points="556.0,411.3 550.5,395.3 561.5,395.3" fill="#000"/>
<line x1="556.0" y1="410.0" x2="556.0" y2="466.0" stroke="#000" stroke-width="2.40" />
<polygon points="556.0,463.0 561.7,480.0 550.3,480.0" fill="#000"/>
<line x1="378.9" y1="518.9" x2="378.9" y2="613.6" stroke="#111" stroke-width="1.60" stroke-dasharray="14.6 4.3 1.3 4.3"/>
<text x="0" y="0" transform="translate(380.4,48.3) rotate(15.2) scale(0.965,1)" font-size="19.0" text-anchor="middle" >50 cm</text>
<text x="0" y="0" transform="translate(365.5,278.0) rotate(-25.2) scale(0.965,1)" font-size="19.0" text-anchor="middle" >46 cm</text>
<text x="0" y="0" transform="translate(404.8,395.5) rotate(14.8) scale(0.965,1)" font-size="19.0" text-anchor="middle" >44 cm</text>
<text x="0" y="0" transform="translate(615.0,451.3) rotate(-26.2) scale(0.965,1)" font-size="19.0" text-anchor="middle" >46 cm</text>
<text x="0" y="0" transform="translate(257.3,595.2) rotate(-29.3) scale(0.965,1)" font-size="19.0" text-anchor="middle" >28 cm</text>
<text x="0" y="0" transform="translate(549.0,366.0) rotate(-90.0) scale(1.050,1)" font-size="19.0" text-anchor="middle" >7 cm</text>
<text x="0" y="0" transform="translate(100.6,561.9) rotate(-90.0) scale(0.965,1)" font-size="19.0" text-anchor="middle" >36-49 cm</text>
<text x="0" y="0" transform="translate(25.6,379.8) rotate(-90.0) scale(0.965,1)" font-size="19.0" text-anchor="middle" >77-89 cm</text>
</svg>
</body></html>
